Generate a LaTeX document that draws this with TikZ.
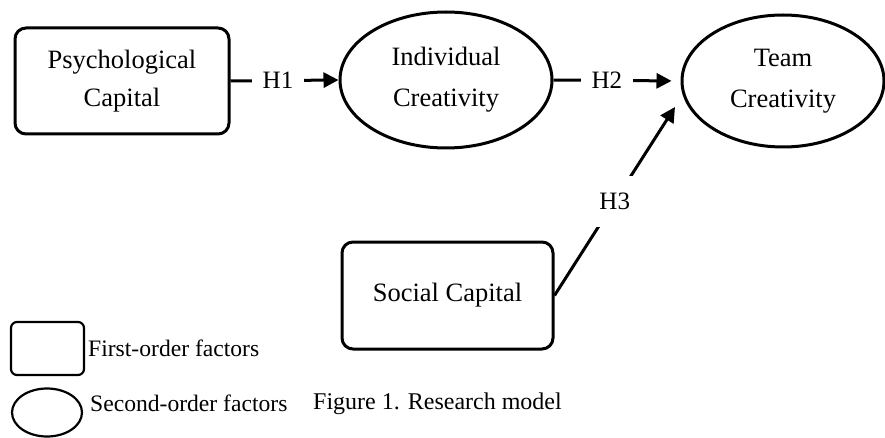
\documentclass[tikz,border=0pt]{standalone}
\usepackage{fontspec}
\setmainfont{Liberation Serif}
\usetikzlibrary{shapes.geometric,arrows.meta}

\tikzset{
  factorbox/.style={draw, line width=3pt, rounded corners=11pt, inner sep=0pt,
    align=center, font=\fontsize{26.5}{38}\selectfont},
  factoroval/.style={draw, line width=3pt, ellipse, inner sep=0pt,
    align=center, font=\fontsize{26.5}{41}\selectfont},
  hyparrow/.style={line width=3pt, -{Triangle[length=15pt,width=15pt]}},
  hlabel/.style={fill=white, inner xsep=11pt, inner ysep=3pt,
    font=\fontsize{25}{30}\selectfont},
  legendtext/.style={anchor=west, inner sep=0pt, font=\fontsize{23.6}{28}\selectfont},
}

\begin{document}
\begin{tikzpicture}[x=1pt, y=-1pt]
  \useasboundingbox (0,0) rectangle (885,438);

  % constructs
  \node[factorbox, minimum width=214pt, minimum height=106pt] (psy) at (122,81)
    {Psychological\\Capital};
  \node[factoroval, minimum width=212pt, minimum height=136pt] (ind) at (446,80)
    {Individual\\Creativity};
  \node[factoroval, minimum width=202pt, minimum height=132pt] (team) at (783,81)
    {Team\\Creativity};
  \node[factorbox, minimum width=211pt, minimum height=107pt] (soc) at (447.5,295.5)
    {Social Capital};

  % hypotheses
  \draw[hyparrow] (psy.east) -- node[hlabel, pos=0.44] {H1} (ind.west);
  \draw[hyparrow, shorten >=9pt] (ind.east) -- node[hlabel, pos=0.42] {H2} (team.west);
  \coordinate (h3end) at (675,107);
  \draw[hyparrow] (soc.east) -- node[hlabel, pos=0.5, inner ysep=17pt] {H3} (h3end);

  % legend
  \node[draw, line width=2.2pt, rounded corners=6pt, minimum width=73pt,
    minimum height=53pt, inner sep=0pt] (lrect) at (47.5,348.5) {};
  \node[legendtext] (ltext1) at (88,348) {First-order factors};
  \node[draw, line width=2.2pt, ellipse, minimum width=70pt, minimum height=48pt,
    inner sep=0pt] (loval) at (47,412.5) {};
  \node[legendtext] (ltext2) at (90,403) {Second-order factors};

  % caption
  \node[legendtext, font=\fontsize{24}{29}\selectfont] (caption) at (313,404)
    {Figure 1. Research model};
\end{tikzpicture}
\end{document}
